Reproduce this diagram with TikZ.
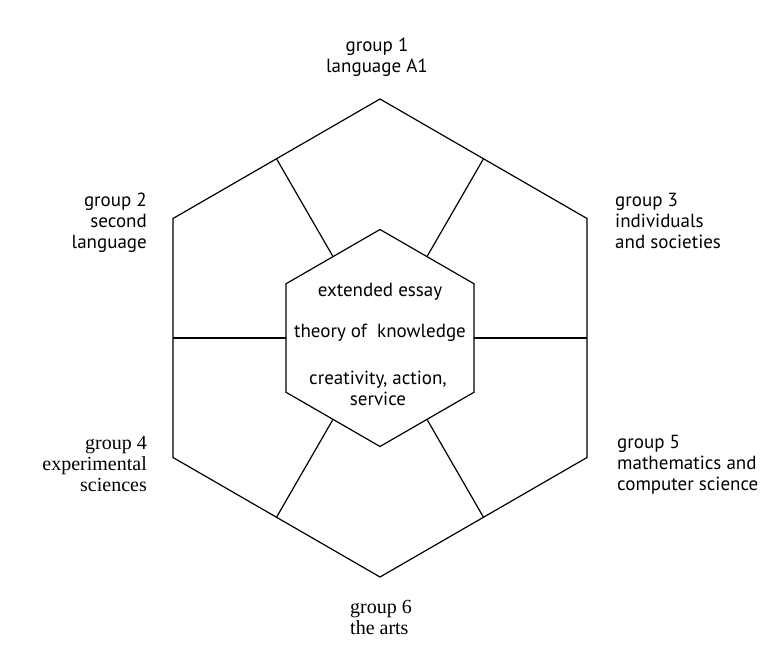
\documentclass[tikz,border=0pt]{standalone}
\usepackage{fontspec}
\setmainfont{Liberation Serif}
\setsansfont{PT Sans}
\usetikzlibrary{shapes.geometric}
\begin{document}
\begin{tikzpicture}[x=1pt,y=-1pt,
            hexa/.style={regular polygon, regular polygon sides=6, shape border rotate=30, draw, line width=1.2pt, outer sep=0pt, inner sep=0pt},
            grouplabel/.style={font=\sffamily\fontsize{19}{21}\selectfont, inner sep=0pt},
            seriflabel/.style={font=\rmfamily\fontsize{20}{21}\selectfont, inner sep=0pt},
            corelabel/.style={font=\sffamily\fontsize{19}{21}\selectfont, inner sep=0pt, align=center}
            ]
            \useasboundingbox (0,0) rectangle (761,666);
            \node[hexa, minimum size=478pt] (outer) at (380,338) {};
            \node[hexa, minimum size=217pt] (inner) at (380,338) {};

            \foreach \i in {1,...,6}
              \draw[line width=1.2pt] (outer.side \i) -- (inner.side \i);

            \node[corelabel] (essay) at (380,292) {extended essay};
            \node[corelabel] (tok) at (380,333) {theory of\ \ knowledge};
            \node[corelabel] (cas) at (378,388) {creativity, action,\\service};

            \node[grouplabel, align=center] (g1) at (377,57) {group 1\\language A1};
            \node[grouplabel, align=right, anchor=east] (g2) at (147,223) {group 2\\second\\language};
            \node[grouplabel, align=left, anchor=west] (g3) at (615,221) {group 3\\individuals\\and societies};
            \node[seriflabel, align=right, anchor=east] (g4) at (147,464) {group 4\\experimental\\sciences};
            \node[grouplabel, align=left, anchor=west] (g5) at (617,465) {group 5\\mathematics and\\computer science};
            \node[seriflabel, align=left, anchor=west] (g6) at (350,617) {group 6\\the arts};
            \end{tikzpicture}
\end{document}
